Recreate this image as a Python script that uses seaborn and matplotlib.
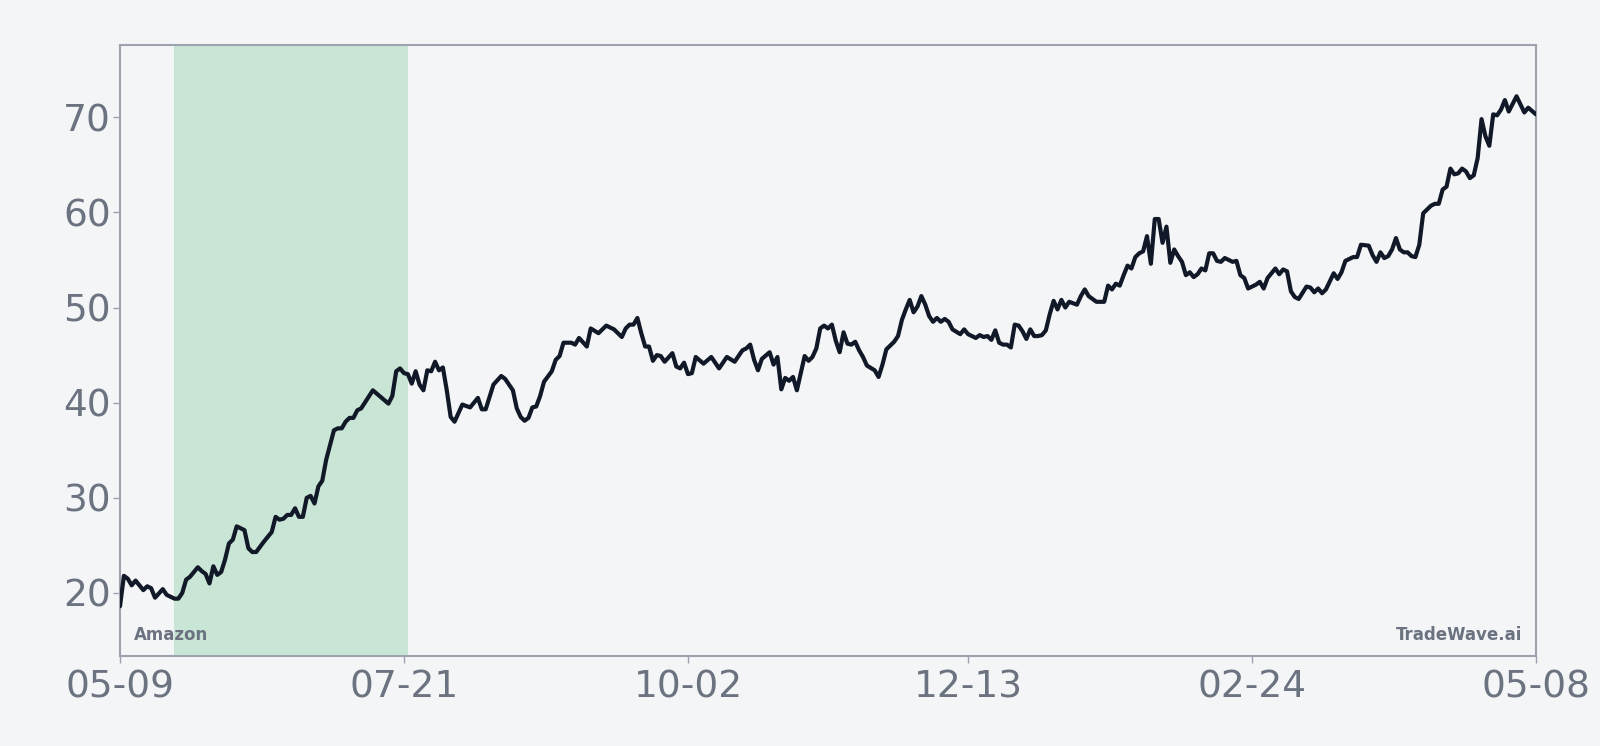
import matplotlib
matplotlib.use("Agg")
import matplotlib.pyplot as plt
import matplotlib.dates as mdates
import numpy as np
import pandas as pd
import seaborn as sns

start_date = "2022-05-09"
end_date = "2023-05-08"
highlight_days = [14, 74]
ticker = "Amazon"
brand = "TradeWave.ai"

# day offset from start_date, closing price
days = [0, 1, 2, 3, 4, 6, 7, 8, 9, 11, 12, 14, 15, 16, 17, 18, 20, 21, 22, 23,
        24, 25, 26, 27, 28, 29, 30, 32, 33, 34, 35, 37, 39, 40, 41, 42, 43, 44, 45, 46,
        47, 48, 49, 50, 51, 52, 53, 55, 56, 57, 58, 59, 60, 61, 62, 65, 69, 70, 71, 72,
        73, 74, 75, 76, 77, 78, 79, 80, 81, 82, 83, 84, 85, 86, 88, 90, 92, 93, 94, 96,
        98, 99, 101, 102, 103, 104, 105, 106, 107, 108, 109, 111, 112, 113, 114, 116, 117, 118, 120, 121,
        123, 125, 127, 129, 130, 131, 132, 133, 134, 135, 136, 137, 138, 139, 140, 142, 143, 144, 145, 146,
        147, 148, 150, 152, 154, 156, 158, 160, 161, 162, 163, 164, 165, 167, 168, 169, 170, 171, 172, 173,
        174, 176, 177, 178, 179, 180, 181, 182, 183, 184, 185, 186, 187, 188, 189, 190, 191, 192, 194, 195,
        196, 197, 199, 200, 201, 202, 203, 204, 205, 206, 207, 208, 209, 210, 211, 212, 213, 214, 216, 217,
        218, 219, 220, 221, 222, 223, 224, 225, 226, 227, 228, 229, 230, 231, 232, 233, 234, 235, 236, 237,
        238, 239, 240, 241, 242, 243, 244, 246, 247, 248, 249, 251, 253, 254, 255, 256, 257, 258, 259, 260,
        261, 262, 263, 264, 265, 266, 267, 268, 269, 270, 271, 272, 273, 274, 275, 276, 277, 278, 279, 280,
        281, 282, 283, 284, 285, 286, 287, 288, 289, 290, 292, 293, 294, 295, 297, 298, 299, 300, 301, 302,
        303, 305, 306, 307, 308, 309, 310, 312, 313, 314, 315, 317, 318, 319, 321, 322, 323, 324, 325, 326,
        327, 328, 329, 330, 331, 332, 333, 334, 335, 336, 337, 338, 339, 340, 341, 342, 343, 344, 345, 346,
        347, 348, 349, 350, 351, 352, 353, 354, 355, 356, 357, 359, 361, 362, 364]
prices = [18.6, 21.8, 21.5, 20.8, 21.3, 20.3, 20.7, 20.5, 19.5, 20.4, 19.8, 19.4, 19.4, 20.0, 21.4, 21.7, 22.7, 22.3, 22.0, 21.0,
          22.8, 21.9, 22.2, 23.5, 25.2, 25.6, 27.0, 26.6, 24.7, 24.3, 24.3, 25.4, 26.4, 28.0, 27.7, 27.8, 28.2, 28.2, 28.9, 28.0,
          28.0, 30.0, 30.2, 29.4, 31.2, 31.8, 34.0, 37.1, 37.3, 37.3, 38.0, 38.4, 38.4, 39.2, 39.4, 41.3, 39.9, 40.7, 43.3, 43.6,
          43.1, 43.0, 42.0, 43.3, 41.9, 41.3, 43.4, 43.3, 44.3, 43.4, 43.7, 41.3, 38.5, 38.0, 39.8, 39.5, 40.5, 39.3, 39.3, 41.9,
          42.8, 42.5, 41.3, 39.4, 38.5, 38.1, 38.4, 39.5, 39.6, 40.7, 42.2, 43.3, 44.5, 44.9, 46.3, 46.3, 46.1, 46.8, 45.9, 47.8,
          47.3, 48.1, 47.7, 46.9, 47.8, 48.2, 48.2, 48.9, 47.3, 45.9, 45.9, 44.4, 45.0, 44.9, 44.3, 45.2, 43.8, 43.6, 44.2, 43.0,
          43.1, 44.8, 44.1, 44.8, 43.6, 44.8, 44.3, 45.5, 45.7, 46.1, 44.5, 43.4, 44.6, 45.3, 44.0, 44.8, 41.4, 42.6, 42.3, 42.7,
          41.3, 44.9, 44.4, 44.8, 45.7, 47.8, 48.1, 47.8, 48.2, 46.5, 45.3, 47.4, 46.2, 46.1, 46.4, 45.5, 44.8, 43.9, 43.4, 42.7,
          44.0, 45.6, 46.4, 47.0, 48.7, 49.8, 50.8, 49.5, 50.1, 51.2, 50.3, 49.1, 48.5, 48.9, 48.5, 48.8, 48.5, 47.7, 47.2, 47.7,
          47.2, 47.0, 46.8, 47.1, 46.9, 47.0, 46.6, 47.6, 46.3, 46.1, 46.1, 45.8, 48.2, 48.1, 47.5, 46.7, 47.7, 47.0, 47.0, 47.1,
          47.6, 49.3, 50.7, 49.8, 50.8, 50.0, 50.6, 50.3, 51.2, 51.9, 51.2, 50.6, 50.6, 52.3, 51.9, 52.5, 52.3, 53.4, 54.4, 54.1,
          55.3, 55.7, 55.9, 57.5, 54.6, 59.3, 59.3, 56.8, 58.5, 54.7, 56.1, 55.4, 54.8, 53.4, 53.7, 53.2, 53.5, 54.1, 53.9, 55.7,
          55.7, 54.9, 54.8, 55.2, 55.0, 54.8, 54.9, 53.4, 53.1, 52.0, 52.4, 52.7, 52.0, 53.1, 54.1, 53.5, 54.0, 53.8, 51.7, 51.1,
          50.9, 52.2, 52.1, 51.6, 52.0, 51.5, 51.9, 53.6, 53.0, 53.7, 54.9, 55.3, 55.3, 56.6, 56.5, 55.5, 54.8, 55.8, 55.2, 55.4,
          56.1, 57.3, 56.1, 55.8, 55.8, 55.4, 55.3, 56.6, 59.9, 60.3, 60.7, 60.9, 60.9, 62.4, 62.7, 64.6, 64.0, 64.1, 64.6, 64.3,
          63.6, 63.9, 65.7, 69.8, 68.0, 67.0, 70.3, 70.2, 70.8, 71.8, 70.6, 72.2, 70.5, 71.0, 70.3]
y_ticks = [20, 30, 40, 50, 60, 70]

bg = "#f4f5f7"
grey = "#6b7280"
spine_col = "#9ca3af"
line_col = "#111827"
shade_col = "#c8e5d5"

sns.set_theme(style="white")
plt.rcParams["font.family"] = ["DejaVu Sans"]

start = pd.Timestamp(start_date)
end = pd.Timestamp(end_date)
df = pd.DataFrame({"date": start + pd.to_timedelta(days, unit="D"), "price": prices})

fig, ax = plt.subplots(figsize=(16, 7.46), dpi=100)
fig.patch.set_facecolor(bg)
ax.set_facecolor(bg)
fig.subplots_adjust(left=0.075, right=0.96, top=0.9398, bottom=0.1206)

ax.axvspan(start + pd.Timedelta(days=highlight_days[0]), start + pd.Timedelta(days=highlight_days[1]),
           color=shade_col, lw=0, zorder=0)
sns.lineplot(data=df, x="date", y="price", ax=ax, color=line_col, linewidth=3, zorder=3)

n_days = (end - start).days
tick_days = np.round(np.linspace(0, n_days, 6)).astype(int)
ax.set_xticks([start + pd.Timedelta(days=int(d)) for d in tick_days])
ax.xaxis.set_major_formatter(mdates.DateFormatter("%m-%d"))
ax.set_xlim(start, end)
ax.set_ylim(13.37, 77.6)
ax.set_yticks(y_ticks)
ax.set_xlabel("")
ax.set_ylabel("")

for s in ax.spines.values():
    s.set_color(spine_col)
    s.set_linewidth(1.5)
ax.tick_params(axis="both", which="major", labelsize=27, colors=spine_col, labelcolor=grey,
               length=5, width=1, direction="out", bottom=True, left=True)
ax.tick_params(axis="x", pad=5)
ax.tick_params(axis="y", pad=1.5)

ax.text(0.0097, 0.026, ticker, transform=ax.transAxes, fontsize=12, fontweight="bold",
        color=grey, ha="left", va="baseline")
ax.text(0.990, 0.026, brand, transform=ax.transAxes, fontsize=12, fontweight="bold",
        color=grey, ha="right", va="baseline")

fig.savefig("out.png", dpi=100, facecolor=bg)
